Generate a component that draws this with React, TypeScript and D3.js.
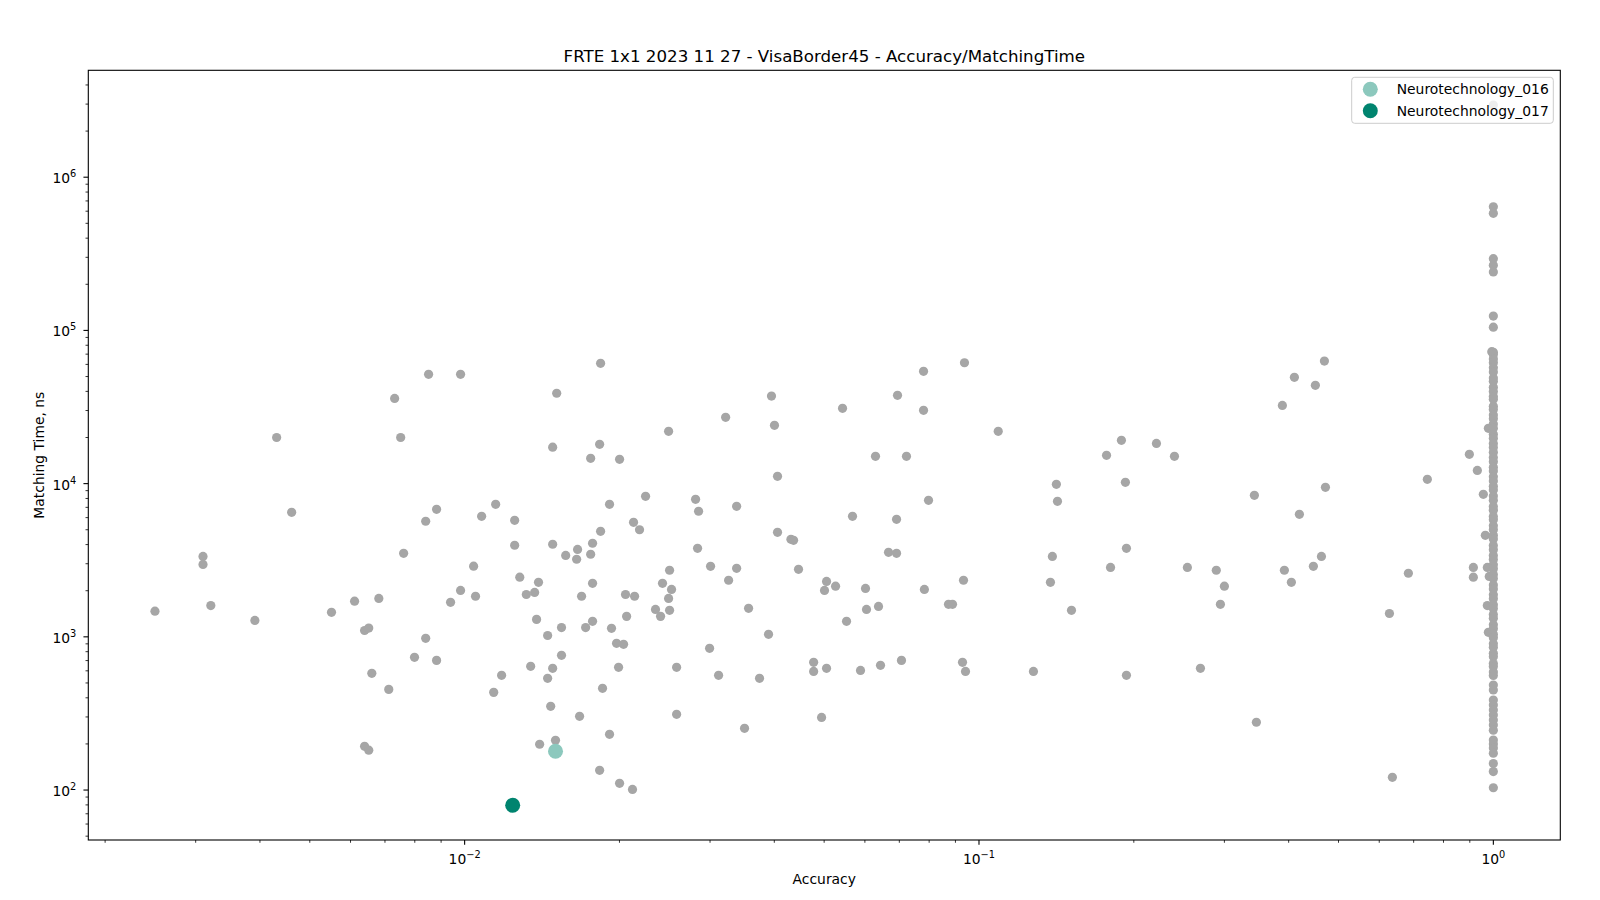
import React from "react";
import * as d3 from "d3";

const TITLE = "FRTE 1x1 2023 11 27 - VisaBorder45 - Accuracy/MatchingTime";
const X_LABEL = "Accuracy";
const Y_LABEL = "Matching Time, ns";

const SERIES_NAMES = ["Neurotechnology_016", "Neurotechnology_017"];
const SERIES_COLORS = ["#8cc8bd", "#00846f"];
const SERIES_ACCURACY = [0.01502, 0.0124];
const SERIES_TIME = [179, 79.5];

const OTHER_COLOR = "#a6a6a6";

// [accuracy, matching time ns] for all other algorithms
const OTHER_POINTS: [number, number][] = [
  [0.00851, 51700], [0.00982, 51700], [0.00731, 36000], [0.0151, 38900], [0.00431, 20000],
  [0.00751, 20000], [0.01483, 17300], [0.00461, 6500], [0.00882, 6800], [0.0084, 5680],
  [0.01149, 7330], [0.01079, 6120], [0.01251, 5760], [0.0031, 3350], [0.0031, 2970],
  [0.00761, 3510], [0.01251, 3960], [0.01483, 4020], [0.01041, 2890], [0.0128, 2450],
  [0.01392, 2270], [0.00982, 2010], [0.0105, 1840], [0.00939, 1680], [0.01318, 1890],
  [0.01368, 1950], [0.0025, 1470], [0.00321, 1600], [0.00391, 1280], [0.00551, 1445],
  [0.00611, 1710], [0.00681, 1780], [0.00639, 1100], [0.00651, 1140], [0.0138, 1300],
  [0.0145, 1020], [0.01543, 1150], [0.0084, 978], [0.00799, 735], [0.00882, 702],
  [0.0066, 578], [0.00712, 454], [0.0118, 561], [0.01139, 434], [0.01344, 642],
  [0.01483, 623], [0.0145, 536], [0.01543, 757], [0.0147, 352], [0.01399, 199],
  [0.01502, 211], [0.00639, 193], [0.00651, 182],
  [0.01838, 61000], [0.0395, 37300], [0.03217, 27100], [0.02492, 21950], [0.04003, 24000],
  [0.05429, 31000], [0.06944, 37700], [0.07802, 54100], [0.09371, 61500], [0.07802, 30100],
  [0.109, 21950], [0.0183, 18050], [0.01758, 14630], [0.02001, 14400], [0.04058, 11160],
  [0.06292, 15080], [0.07228, 15080], [0.01913, 7330], [0.02248, 8260], [0.02812, 7900],
  [0.0285, 6600], [0.03379, 7110], [0.07978, 7780], [0.05677, 6120], [0.06914, 5850],
  [0.0213, 5590], [0.02188, 5000], [0.01838, 4880], [0.01773, 4080], [0.01658, 3720],
  [0.01572, 3400], [0.01651, 3210], [0.01758, 3460], [0.02837, 3780], [0.04058, 4810],
  [0.04309, 4330], [0.0436, 4265], [0.0667, 3560], [0.06914, 3510], [0.02503, 2720],
  [0.03007, 2885], [0.03379, 2800], [0.0326, 2340], [0.04458, 2760], [0.02425, 2235],
  [0.02525, 2040], [0.01773, 2235], [0.01688, 1840], [0.02055, 1890], [0.0214, 1840],
  [0.02492, 1780], [0.0235, 1510], [0.02404, 1360], [0.02503, 1490], [0.02065, 1360],
  [0.01773, 1262], [0.01719, 1150], [0.0193, 1136], [0.03565, 1535], [0.05054, 2300],
  [0.05262, 2140], [0.05008, 2010], [0.06017, 2070], [0.07832, 2040], [0.0933, 2340],
  [0.06044, 1510], [0.06378, 1580], [0.05527, 1262], [0.08724, 1630], [0.08882, 1630],
  [0.03898, 1038], [0.01974, 907], [0.02037, 893], [0.01992, 632], [0.02583, 632],
  [0.02994, 841], [0.03117, 561], [0.03744, 536], [0.01854, 461], [0.0477, 682],
  [0.0477, 595], [0.05054, 623], [0.05884, 604], [0.06435, 652], [0.07068, 702],
  [0.09289, 682], [0.09414, 595], [0.01673, 303], [0.02583, 312], [0.03501, 253],
  [0.04943, 298], [0.01913, 231], [0.0183, 134.5], [0.02001, 110.6], [0.0212, 101],
  [0.4694, 63100], [0.4104, 49400], [0.4508, 43800], [0.3889, 32400], [0.1892, 19170],
  [0.177, 15300], [0.2213, 18300], [0.2399, 15080], [0.1414, 9900], [0.1421, 7660],
  [0.1926, 10200], [0.3431, 8390], [0.4716, 9460], [0.4197, 6300], [0.7442, 10670],
  [0.8982, 15530], [0.9309, 12200], [0.9562, 8510], [0.9648, 4600], [0.1389, 3350],
  [0.1377, 2270], [0.1802, 2840], [0.1935, 3780], [0.1513, 1490], [0.2542, 2840],
  [0.2893, 2720], [0.3, 2140], [0.2947, 1630], [0.3924, 2720], [0.4049, 2270],
  [0.4468, 2885], [0.4632, 3350], [0.6836, 2600], [0.628, 1420], [0.9144, 2840],
  [0.9144, 2450], [0.9735, 2840], [0.9735, 1600], [0.978, 1070], [0.982, 2480],
  [0.978, 22960], [0.993, 72600], [0.1276, 595], [0.1935, 561], [0.2695, 623],
  [0.3462, 277], [0.6364, 121],
];

// matching times of algorithms with accuracy 1.0
const PERFECT_ACCURACY = 1.0;
const PERFECT_TIMES = [
  2960000, 641000, 581000, 294000, 266000, 241000, 124000, 105000, 72000, 69500,
  65000, 61500, 57000, 53500, 49000, 46500, 42500, 40000, 37000, 35500,
  32000, 30500, 28000, 26500, 24500, 23000, 21000, 19800, 18300, 17200,
  16000, 14800, 13900, 12800, 12100, 11100, 10400, 9600, 9100, 8300,
  7800, 7100, 6700, 6100, 5800, 5300, 5000, 4600, 4350, 3950,
  3700, 3400, 3200, 2950, 2780, 2550, 2400, 2180, 2050, 1880,
  1770, 1620, 1530, 1400, 1320, 1200, 1130, 1040, 985, 900,
  855, 780, 740, 670, 640, 590, 560, 484, 450, 387,
  359, 333, 309, 286, 266, 246, 212, 200, 188, 174,
  149, 132, 103.5,
];

const X_TICKS = [0.01, 0.1, 1];
const X_TICK_EXPONENTS = ["\u22122", "\u22121", "0"];
const Y_TICKS = [1e2, 1e3, 1e4, 1e5, 1e6];
const Y_TICK_EXPONENTS = ["2", "3", "4", "5", "6"];

const FONT = "DejaVu Sans, Verdana, sans-serif";

export default function App() {
  const W = 1600;
  const H = 900;
  const left = 88.3, right = 1560.3, top = 70.3, bottom = 840;

  const x = d3.scaleLog().domain([0.001855, 1.3495]).range([left, right]);
  const y = d3.scaleLog().domain([47.2, 4.986e6]).range([bottom, top]);

  const [xd0, xd1] = x.domain();
  const [yd0, yd1] = y.domain();
  const xMinor: number[] = [];
  for (let e = -4; e <= 1; e++) {
    for (let m = 2; m <= 9; m++) {
      const v = m * Math.pow(10, e);
      if (v >= xd0 && v <= xd1) xMinor.push(v);
    }
  }
  const yMinor: number[] = [];
  for (let e = 0; e <= 7; e++) {
    for (let m = 2; m <= 9; m++) {
      const v = m * Math.pow(10, e);
      if (v >= yd0 && v < yd1) yMinor.push(v);
    }
  }

  const majorLen = 4.86;
  const minorLen = 2.78;
  const fs = 13.89;

  const legendX = 1351.7, legendY = 77.3, legendW = 201.6, legendH = 46;

  return (
    <div style={{ position: "absolute", left: 0, top: 0 }}>
      <svg width={W} height={H} style={{ display: "block", background: "#fff" }} fontFamily={FONT}>
        <rect x={0} y={0} width={W} height={H} fill="#fff" />
        {/* points */}
        <g>
          {OTHER_POINTS.map(([a, t], i) => (
            <circle key={"o" + i} cx={x(a)} cy={y(t)} r={4.6} fill={OTHER_COLOR} />
          ))}
          {PERFECT_TIMES.map((t, i) => (
            <circle key={"p" + i} cx={x(PERFECT_ACCURACY)} cy={y(t)} r={4.6} fill={OTHER_COLOR} />
          ))}
          {SERIES_NAMES.map((n, i) => (
            <circle key={n} cx={x(SERIES_ACCURACY[i])} cy={y(SERIES_TIME[i])} r={7.5} fill={SERIES_COLORS[i]} />
          ))}
        </g>
        {/* axes frame */}
        <rect x={left} y={top} width={right - left} height={bottom - top} fill="none" stroke="#000" strokeWidth={1.1} />
        {/* x ticks */}
        <g>
          {xMinor.map((v, i) => (
            <line key={"xm" + i} x1={x(v)} x2={x(v)} y1={bottom} y2={bottom + minorLen} stroke="#000" strokeWidth={0.8} />
          ))}
          {X_TICKS.map((v, i) => (
            <g key={"xt" + i}>
              <line x1={x(v)} x2={x(v)} y1={bottom} y2={bottom + majorLen} stroke="#000" strokeWidth={1.1} />
              <text x={x(v)} y={864} fontSize={fs} textAnchor="middle" fill="#000">
                10<tspan dy={-6} fontSize={9.8}>{X_TICK_EXPONENTS[i]}</tspan>
              </text>
            </g>
          ))}
        </g>
        {/* y ticks */}
        <g>
          {yMinor.map((v, i) => (
            <line key={"ym" + i} x1={left - minorLen} x2={left} y1={y(v)} y2={y(v)} stroke="#000" strokeWidth={0.8} />
          ))}
          {Y_TICKS.map((v, i) => (
            <g key={"yt" + i}>
              <line x1={left - majorLen} x2={left} y1={y(v)} y2={y(v)} stroke="#000" strokeWidth={1.1} />
              <text x={left - 12} y={y(v) + 6} fontSize={fs} textAnchor="end" fill="#000">
                10<tspan dy={-6} fontSize={9.8}>{Y_TICK_EXPONENTS[i]}</tspan>
              </text>
            </g>
          ))}
        </g>
        {/* labels */}
        <text x={(left + right) / 2} y={62} fontSize={16.67} textAnchor="middle" fill="#000">{TITLE}</text>
        <text x={(left + right) / 2} y={884} fontSize={fs} textAnchor="middle" fill="#000">{X_LABEL}</text>
        <text transform={`translate(43.5, ${(top + bottom) / 2}) rotate(-90)`} fontSize={fs} textAnchor="middle" fill="#000">{Y_LABEL}</text>
        {/* legend */}
        <g>
          <rect x={legendX} y={legendY} width={legendW} height={legendH} rx={3} ry={3} fill="#fff" fillOpacity={0.8} stroke="#cccccc" strokeWidth={1} />
          {SERIES_NAMES.map((n, i) => (
            <g key={"lg" + i}>
              <circle cx={1370.3} cy={89.3 + i * 21.4} r={7.5} fill={SERIES_COLORS[i]} />
              <text x={1396.7} y={89.3 + i * 21.4 + 5} fontSize={fs} fill="#000">{n}</text>
            </g>
          ))}
        </g>
      </svg>
    </div>
  );
}
